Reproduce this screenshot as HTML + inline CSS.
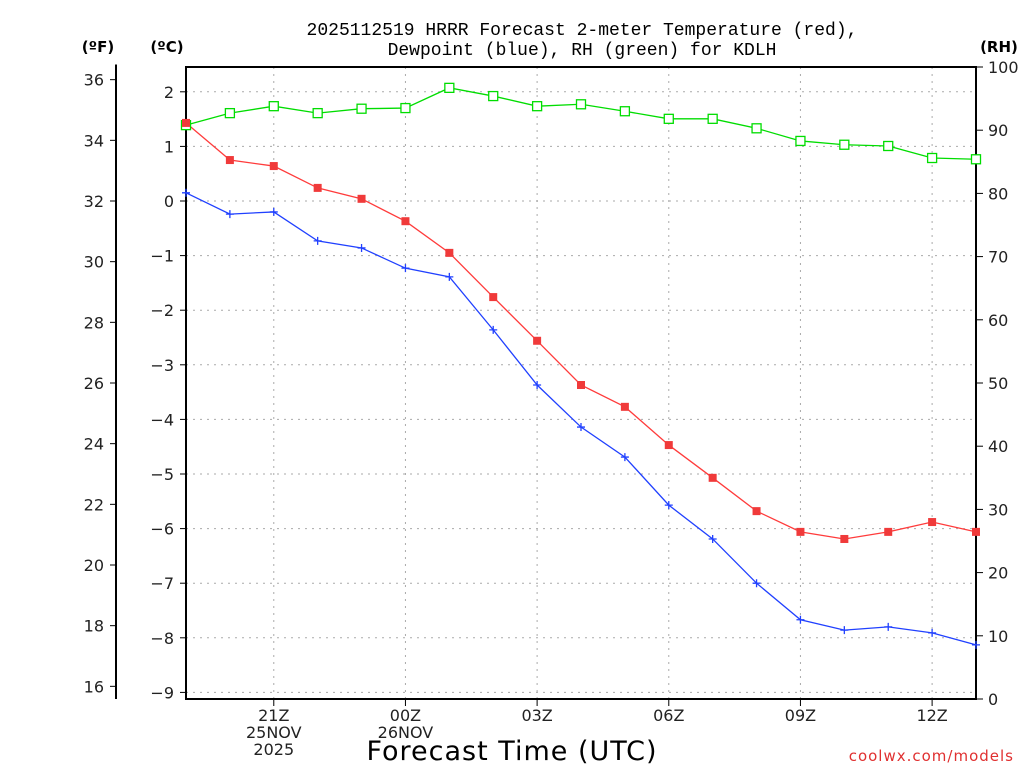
<!DOCTYPE html>
<html><head><meta charset="utf-8"><style>
body{margin:0;background:#fff;width:1024px;height:768px;overflow:hidden}
svg{font-family:"DejaVu Sans","Liberation Sans",sans-serif}
</style></head><body>
<svg id="chart" width="1024" height="768" xmlns="http://www.w3.org/2000/svg">
<g font-size="18" text-anchor="middle" fill="#000" font-family="Liberation Mono, monospace">
<text x="582" y="35">2025112519 HRRR Forecast 2-meter Temperature (red),</text>
<text x="582" y="55">Dewpoint (blue), RH (green) for KDLH</text>
</g>
<text x="98" y="52" font-size="15" font-weight="bold" text-anchor="middle">(ºF)</text>
<text x="167" y="52" font-size="15" font-weight="bold" text-anchor="middle">(ºC)</text>
<text x="999" y="52" font-size="15" font-weight="bold" text-anchor="middle">(RH)</text>
<text x="512" y="760" font-size="27" text-anchor="middle" letter-spacing="1">Forecast Time (UTC)</text>
<text x="1014" y="761" font-size="15" fill="#e03030" text-anchor="end" letter-spacing="1">coolwx.com/models</text>
<g id="grid"></g><g id="axes"></g><g id="series"></g>
</svg>
<script>
const hours=['19Z','20Z','21Z','22Z','23Z','00Z','01Z','02Z','03Z','04Z','05Z','06Z','07Z','08Z','09Z','10Z','11Z','12Z','13Z'];
const tempC=[1.43,0.75,0.64,0.24,0.04,-0.37,-0.95,-1.76,-2.56,-3.37,-3.77,-4.47,-5.07,-5.68,-6.06,-6.19,-6.06,-5.88,-6.06];
const dewC=[0.15,-0.24,-0.2,-0.73,-0.86,-1.23,-1.39,-2.36,-3.37,-4.14,-4.69,-5.57,-6.19,-7.0,-7.67,-7.86,-7.8,-7.91,-8.13];
const rh=[90.8,92.7,93.8,92.7,93.4,93.5,96.7,95.4,93.8,94.1,93.0,91.8,91.8,90.3,88.3,87.7,87.5,85.6,85.4];
const cTicks=[2,1,0,-1,-2,-3,-4,-5,-6,-7,-8,-9];
const fTicks=[36,34,32,30,28,26,24,22,20,18,16];
const rhTicks=[0,10,20,30,40,50,60,70,80,90,100];
const xLabels=[[2,'21Z','25NOV','2025'],[5,'00Z','26NOV'],[8,'03Z'],[11,'06Z'],[14,'09Z'],[17,'12Z']];
const L=186,R=976,T=67,B=699;
const X=i=>L+i*(R-L)/18;
const YC=c=>201-c*54.6;
const YF=f=>YC((f-32)/1.8);
const YR=r=>B-r*(B-T)/100;
const NS='http://www.w3.org/2000/svg';
function mk(p,tag,at,txt){const e=document.createElementNS(NS,tag);for(const k in at)e.setAttribute(k,at[k]);if(txt!==undefined)e.textContent=txt;p.appendChild(e);return e;}
const grid=document.getElementById('grid'),axes=document.getElementById('axes'),ser=document.getElementById('series');
cTicks.forEach(c=>{const y=YC(c);
 const g=mk(grid,'line',{x1:L,x2:R,y1:y,y2:y,stroke:'#aaa','stroke-dasharray':'2 5'});
 
 
 mk(axes,'line',{x1:L-6,x2:L,y1:y,y2:y,stroke:'#000'});
 const t=mk(axes,'text',{x:L-12,y:y+6,'font-size':16,'text-anchor':'end',fill:'#222'},String(c).replace('-','−'));
 
 
});
xLabels.forEach(l=>{const x=X(l[0]);
 const g=mk(grid,'line',{x1:x,x2:x,y1:T,y2:B,stroke:'#aaa','stroke-dasharray':'2 5'});
 
 
 mk(axes,'line',{x1:x,x2:x,y1:B,y2:B+7,stroke:'#000'});
 l.slice(1).forEach((s,j)=>{const t=mk(axes,'text',{x:x,y:B+22+j*17,'font-size':16,'text-anchor':'middle',fill:'#222'},s);
  
  });
});
mk(axes,'rect',{x:L,y:T,width:R-L,height:B-T,fill:'none',stroke:'#000','stroke-width':2});
mk(axes,'line',{x1:116,x2:116,y1:YF(36.5),y2:B,stroke:'#000','stroke-width':2});
fTicks.forEach(f=>{const y=YF(f);
 mk(axes,'line',{x1:110,x2:116,y1:y,y2:y,stroke:'#000'});
 const t=mk(axes,'text',{x:104,y:y+6,'font-size':16,'text-anchor':'end',fill:'#222'},f);
 
 
});
rhTicks.forEach(r=>{const y=YR(r);
 mk(axes,'line',{x1:R,x2:R+7,y1:y,y2:y,stroke:'#000'});
 const t=mk(axes,'text',{x:988,y:y+6,'font-size':16,fill:'#222'},r);
 
 
});
function line(vals,yf,color,name){
 const p=mk(ser,'polyline',{points:vals.map((v,i)=>X(i)+','+yf(v)).join(' '),fill:'none',stroke:color,'stroke-width':1.3});
 
 
}
line(rh,YR,'#00dd00','rh');line(tempC,YC,'#ff3b3b','temperature');line(dewC,YC,'#2040ff','dewpoint');
rh.forEach((v,i)=>{const m=mk(ser,'rect',{x:X(i)-4.5,y:YR(v)-4.5,width:9,height:9,fill:'#fff',stroke:'#00dd00','stroke-width':1.3});
 
 });
tempC.forEach((v,i)=>{const m=mk(ser,'rect',{x:X(i)-4,y:YC(v)-4,width:8,height:8,fill:'#f03a3a'});
 
 });
dewC.forEach((v,i)=>{const y=YC(v),x=X(i);
 const m=mk(ser,'path',{d:`M${x-4},${y}h8M${x},${y-4}v8`,stroke:'#2040ff','stroke-width':1.3});
 
 });
</script>
</body></html>
